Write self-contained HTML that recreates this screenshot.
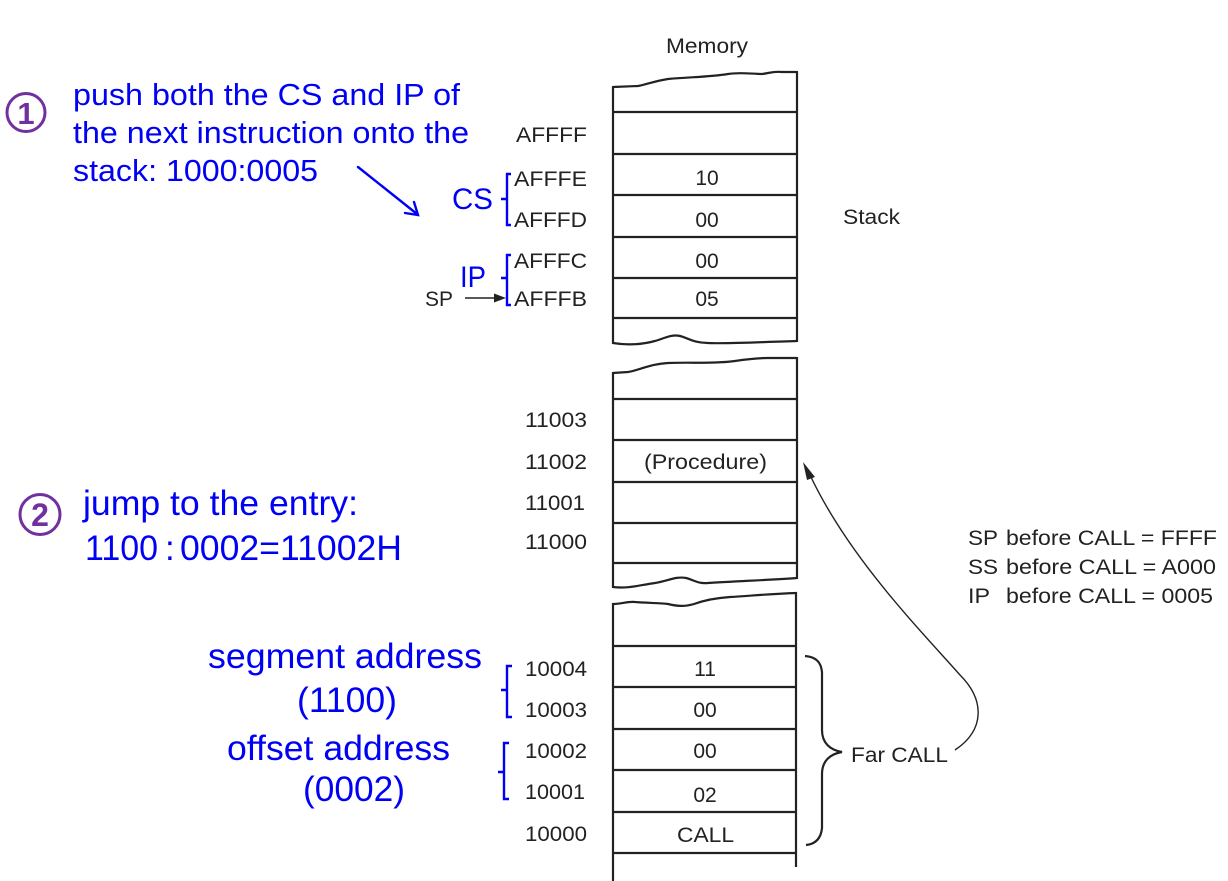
<!DOCTYPE html>
<html>
<head>
<meta charset="utf-8">
<style>
html,body{margin:0;padding:0;background:#fff;}
svg{display:block;}
.k{font-family:"Liberation Sans",Arial,sans-serif;font-size:21px;fill:#222;}
.b{font-family:"Liberation Sans","Noto Sans CJK SC",sans-serif;fill:#0000f5;}
</style>
</head>
<body>
<svg width="1228" height="881" viewBox="0 0 1228 881" xmlns="http://www.w3.org/2000/svg">
<rect width="1228" height="881" fill="#fff"/>

<!-- ===== Box 1 (stack) ===== -->
<g fill="none" stroke="#222" stroke-width="2.2" stroke-linejoin="round">
  <path d="M613,87 L638,86 C648,84 655,81 668,79 C690,77 710,77 728,74 C740,72 752,74 762,74 C770,73 774,71 782,72 L797,72"/>
  <line x1="613" y1="86" x2="613" y2="344"/>
  <line x1="797" y1="71" x2="797" y2="342"/>
  <line x1="613" y1="112" x2="797" y2="112"/>
  <line x1="613" y1="154" x2="797" y2="154"/>
  <line x1="613" y1="195" x2="797" y2="195"/>
  <line x1="613" y1="237" x2="797" y2="237"/>
  <line x1="613" y1="278" x2="797" y2="278"/>
  <line x1="613" y1="318" x2="797" y2="318"/>
  <path d="M613,343 C625,345 640,345 655,341 C665,338 672,334 680,336 C688,338 694,343 708,343 C730,344 760,342 797,341"/>
</g>

<!-- ===== Box 2 (procedure) ===== -->
<g fill="none" stroke="#222" stroke-width="2.2" stroke-linejoin="round">
  <path d="M613,373 L628,372 C640,370 650,364 668,363 C690,362 715,364 735,361 C748,359 756,358 768,358 L797,358"/>
  <line x1="613" y1="372" x2="613" y2="588"/>
  <line x1="797" y1="357" x2="797" y2="579"/>
  <line x1="613" y1="399" x2="797" y2="399"/>
  <line x1="613" y1="440" x2="797" y2="440"/>
  <line x1="613" y1="482" x2="797" y2="482"/>
  <line x1="613" y1="523" x2="797" y2="523"/>
  <line x1="613" y1="563" x2="797" y2="563"/>
  <path d="M613,587 C628,589 640,585 655,583 C668,581 676,576 686,578 C694,580 698,584 708,583 C740,581 770,580 797,578"/>
</g>

<!-- ===== Box 3 (code) ===== -->
<g fill="none" stroke="#222" stroke-width="2.2" stroke-linejoin="round">
  <path d="M613,604 C622,604 628,601 635,602 C648,603 660,603 668,604 C676,606 684,607 694,604 C705,600 715,598 730,597 C750,596 765,594 797,593"/>
  <line x1="613" y1="603" x2="613" y2="881"/>
  <line x1="796" y1="592" x2="796" y2="867"/>
  <line x1="613" y1="646" x2="796" y2="646"/>
  <line x1="613" y1="687" x2="796" y2="687"/>
  <line x1="613" y1="729" x2="796" y2="729"/>
  <line x1="613" y1="770" x2="796" y2="770"/>
  <line x1="613" y1="812" x2="796" y2="812"/>
  <line x1="613" y1="853" x2="796" y2="853"/>
</g>

<!-- Far CALL brace -->
<path d="M805,656 C816,657 821,662 822,672 L822,730 C822,743 830,750 842,752 C830,754 822,761 822,774 L822,828 C821,838 816,844 806,845" fill="none" stroke="#222" stroke-width="2.2"/>

<!-- curved arrow from Far CALL to procedure -->
<path d="M955,750 C985,730 985,700 960,675 C925,635 850,560 810,475" fill="none" stroke="#222" stroke-width="1.4"/>
<polygon points="803,462 815,477 807,480" fill="#222"/>

<!-- SP arrow -->
<line x1="465" y1="298" x2="498" y2="298" stroke="#222" stroke-width="1.4"/>
<polygon points="506,298 494,293.5 494,302.5" fill="#222"/>

<!-- black labels -->
<text class="k" x="666" y="53" textLength="82" lengthAdjust="spacingAndGlyphs">Memory</text>
<text class="k" x="516" y="142" textLength="71" lengthAdjust="spacingAndGlyphs">AFFFF</text>
<text class="k" x="514" y="186" textLength="73" lengthAdjust="spacingAndGlyphs">AFFFE</text>
<text class="k" x="514" y="227" textLength="73" lengthAdjust="spacingAndGlyphs">AFFFD</text>
<text class="k" x="514" y="268" textLength="73" lengthAdjust="spacingAndGlyphs">AFFFC</text>
<text class="k" x="514" y="306" textLength="73" lengthAdjust="spacingAndGlyphs">AFFFB</text>
<text class="k" x="425" y="306" textLength="28" lengthAdjust="spacingAndGlyphs">SP</text>
<text class="k" x="707" y="185" text-anchor="middle">10</text>
<text class="k" x="707" y="227" text-anchor="middle">00</text>
<text class="k" x="707" y="268" text-anchor="middle">00</text>
<text class="k" x="707" y="306" text-anchor="middle">05</text>
<text class="k" x="843" y="224" textLength="57" lengthAdjust="spacingAndGlyphs">Stack</text>

<text class="k" x="525" y="427" textLength="62" lengthAdjust="spacingAndGlyphs">11003</text>
<text class="k" x="525" y="469" textLength="62" lengthAdjust="spacingAndGlyphs">11002</text>
<text class="k" x="525" y="510" textLength="60" lengthAdjust="spacingAndGlyphs">11001</text>
<text class="k" x="525" y="549" textLength="62" lengthAdjust="spacingAndGlyphs">11000</text>
<text class="k" x="644" y="469" textLength="123" lengthAdjust="spacingAndGlyphs">(Procedure)</text>

<text class="k" x="525" y="676" textLength="62" lengthAdjust="spacingAndGlyphs">10004</text>
<text class="k" x="525" y="717" textLength="62" lengthAdjust="spacingAndGlyphs">10003</text>
<text class="k" x="525" y="758" textLength="62" lengthAdjust="spacingAndGlyphs">10002</text>
<text class="k" x="525" y="799" textLength="60" lengthAdjust="spacingAndGlyphs">10001</text>
<text class="k" x="525" y="841" textLength="62" lengthAdjust="spacingAndGlyphs">10000</text>
<text class="k" x="705" y="676" text-anchor="middle">11</text>
<text class="k" x="705" y="717" text-anchor="middle">00</text>
<text class="k" x="705" y="758" text-anchor="middle">00</text>
<text class="k" x="705" y="802" text-anchor="middle">02</text>
<text class="k" x="677" y="842" textLength="57" lengthAdjust="spacingAndGlyphs">CALL</text>
<text class="k" x="851" y="762" textLength="97" lengthAdjust="spacingAndGlyphs">Far CALL</text>

<text class="k" x="968" y="545" textLength="30" lengthAdjust="spacingAndGlyphs">SP</text>
<text class="k" x="1006" y="545" textLength="211" lengthAdjust="spacingAndGlyphs">before CALL = FFFF</text>
<text class="k" x="968" y="574" textLength="30" lengthAdjust="spacingAndGlyphs">SS</text>
<text class="k" x="1006" y="574" textLength="210" lengthAdjust="spacingAndGlyphs">before CALL = A000</text>
<text class="k" x="968" y="603" textLength="22" lengthAdjust="spacingAndGlyphs">IP</text>
<text class="k" x="1006" y="603" textLength="207" lengthAdjust="spacingAndGlyphs">before CALL = 0005</text>

<!-- blue braces -->
<g fill="none" stroke="#0000f5" stroke-width="2.4" stroke-linejoin="miter">
  <path d="M511,174 L507,174 L507,225 L511,225 M507,199 L501,199"/>
  <path d="M511,255 L507,255 L507,305 L511,305 M507,278 L501,278"/>
  <path d="M512,666 L507,666 L507,717 L512,717 M507,690 L501,690"/>
  <path d="M509,743 L504,743 L504,799 L509,799 M504,772 L498,772"/>
</g>

<!-- blue arrow -->
<g stroke="#0000f5" stroke-width="2.4" fill="none" stroke-linecap="round">
  <line x1="358" y1="167" x2="417" y2="214"/>
  <polyline points="414,202 418,215 405,213"/>
</g>

<!-- blue text -->
<text class="b" x="452" y="209" font-size="30" textLength="41" lengthAdjust="spacingAndGlyphs">CS</text>
<text class="b" x="460" y="287" font-size="30" textLength="26" lengthAdjust="spacingAndGlyphs">IP</text>

<text class="b" x="73" y="105" font-size="31" textLength="387" lengthAdjust="spacingAndGlyphs">push both the CS and IP of</text>
<text class="b" x="73" y="143" font-size="31" textLength="396" lengthAdjust="spacingAndGlyphs">the next instruction onto the</text>
<text class="b" x="73" y="181" font-size="31" textLength="245" lengthAdjust="spacingAndGlyphs">stack: 1000:0005</text>

<text class="b" x="83" y="515" font-size="35" textLength="275" lengthAdjust="spacingAndGlyphs">jump to the entry:</text>
<text class="b" x="85" y="560" font-size="35" textLength="73" lengthAdjust="spacingAndGlyphs">1100</text>
<text class="b" x="165" y="560" font-size="35">:</text>
<text class="b" x="180" y="560" font-size="35" textLength="222" lengthAdjust="spacingAndGlyphs">0002=11002H</text>

<text class="b" x="208" y="668" font-size="35" textLength="274" lengthAdjust="spacingAndGlyphs">segment address</text>
<text class="b" x="297" y="712" font-size="35" textLength="100" lengthAdjust="spacingAndGlyphs">(1100)</text>
<text class="b" x="227" y="760" font-size="35" textLength="223" lengthAdjust="spacingAndGlyphs">offset address</text>
<text class="b" x="303" y="801" font-size="35" textLength="102" lengthAdjust="spacingAndGlyphs">(0002)</text>

<!-- circled numbers -->
<circle cx="26" cy="112.5" r="19" fill="none" stroke="#7030a0" stroke-width="3"/>
<text x="26" y="124" font-family="Liberation Sans, sans-serif" font-weight="bold" font-size="31" fill="#7030a0" text-anchor="middle">1</text>
<circle cx="40" cy="514.5" r="20" fill="none" stroke="#7030a0" stroke-width="3"/>
<text x="40" y="526" font-family="Liberation Sans, sans-serif" font-weight="bold" font-size="32" fill="#7030a0" text-anchor="middle">2</text>
</svg>
</body>
</html>
